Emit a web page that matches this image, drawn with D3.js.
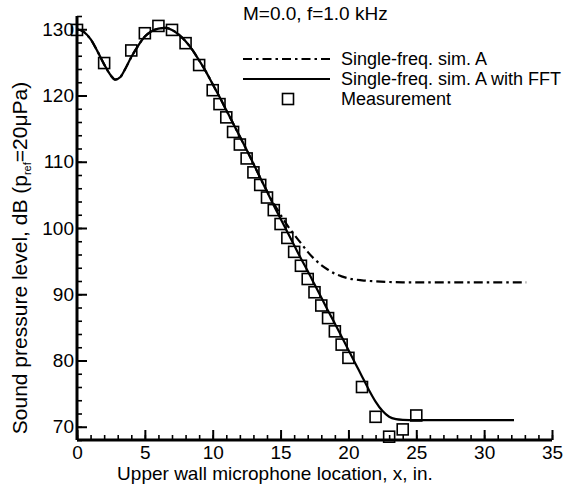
<!DOCTYPE html>
<html><head><meta charset="utf-8">
<script src="https://cdn.jsdelivr.net/npm/d3@7/dist/d3.min.js"></script>
<style>
body{margin:0;background:#fff}
svg{display:block}
text{font-family:"Liberation Sans",Arial,Helvetica,sans-serif;fill:#000}
</style>
</head><body>
<svg id="c" width="566" height="491"></svg>
<script>
// ---- data ----
const measX = [0,2,4,5,6,7,8,9,10,10.5,11,11.5,12,12.5,13,13.5,14,14.5,15,15.5,16,16.5,17,17.5,18,18.5,19,19.5,20,21,22,23,24,25];
const measY = [129.9,124.9,126.8,129.4,130.5,129.9,127.9,124.6,120.8,118.7,116.7,114.5,112.6,110.5,108.4,106.5,104.6,102.7,100.6,98.5,96.4,94.3,92.3,90.3,88.3,86.4,84.4,82.4,80.4,76.0,71.5,68.5,69.6,71.7];

const fftX = [0,0.5,1,1.5,2,2.5,2.8,3.2,3.5,4,4.5,5,5.5,6,6.5,7,7.5,8,8.5,9,9.5,10,10.5,11,11.5,12,12.5,13,13.5,14,14.5,15,15.5,16,16.5,17,17.5,18,18.5,19,19.5,20,20.5,21,21.5,22,22.5,23,23.5,24,25,28,32.2];
const fftY = [130.0,129.6,128.5,126.7,124.7,123.0,122.4,122.8,123.8,125.8,127.5,128.9,129.7,130.1,130.2,129.9,129.2,128.2,126.9,125.3,123.6,121.7,119.8,117.8,115.8,113.8,111.8,109.7,107.6,105.5,103.4,101.4,99.4,97.4,95.4,93.5,91.5,89.5,87.5,85.6,83.6,81.6,79.6,77.6,75.6,73.8,72.4,71.5,71.15,71.05,71.0,71.0,71.0];

const simX = [0,0.5,1,1.5,2,2.5,2.8,3.2,3.5,4,4.5,5,5.5,6,6.5,7,7.5,8,8.5,9,9.5,10,10.5,11,11.5,12,12.5,13,13.5,14,14.5,15,15.5,16,16.5,17,17.5,18,18.5,19,19.5,20,21,22,23,24,28,33.1];
const simY = [130.0,129.6,128.5,126.7,124.7,123.0,122.4,122.8,123.8,125.8,127.5,128.9,129.7,130.1,130.2,129.9,129.2,128.2,126.9,125.3,123.6,121.7,119.8,117.8,115.8,113.8,111.8,109.7,107.6,105.6,103.7,102.0,100.4,99.0,97.7,96.4,95.3,94.4,93.7,93.1,92.7,92.4,92.1,91.95,91.85,91.8,91.8,91.8];

const xTicks = [0,5,10,15,20,25,30,35];
const yTicks = [70,80,90,100,110,120,130];
const xMinor = d3.range(0,36,1);
const yMinor = d3.range(68,133,2);

const titleText = "M=0.0, f=1.0 kHz";
const legendLabels = ["Single-freq. sim. A","Single-freq. sim. A with FFT","Measurement"];

// ---- layout ----
const svg = d3.select("#c");
const x = d3.scaleLinear().domain([0,35]).range([77,552]);
const y = d3.scaleLinear().domain([68,132]).range([440,16]);
const FS = 19;

// minor ticks
svg.append("g").attr("transform","translate(0,440)")
  .call(d3.axisBottom(x).tickValues(xMinor).tickFormat("").tickSizeInner(-5).tickSizeOuter(0))
  .call(g=>g.select(".domain").remove())
  .call(g=>g.selectAll("line").attr("stroke-width",1.6));
svg.append("g").attr("transform","translate(77,0)")
  .call(d3.axisLeft(y).tickValues(yMinor).tickFormat("").tickSizeInner(-5).tickSizeOuter(0))
  .call(g=>g.select(".domain").remove())
  .call(g=>g.selectAll("line").attr("stroke-width",1.6));

// major ticks
const gx = svg.append("g").attr("transform","translate(0,440)")
  .call(d3.axisBottom(x).tickValues(xTicks).tickSizeInner(-10).tickSizeOuter(0).tickPadding(6));
gx.select(".domain").remove();
gx.selectAll("line").attr("stroke-width",2);
gx.selectAll("text").attr("font-size",FS).attr("font-family","Liberation Sans, Arial, sans-serif").attr("fill","#000");

const gy = svg.append("g").attr("transform","translate(77,0)")
  .call(d3.axisLeft(y).tickValues(yTicks).tickSizeInner(-10).tickSizeOuter(0).tickPadding(3));
gy.select(".domain").remove();
gy.selectAll("line").attr("stroke-width",2);
gy.selectAll("text").attr("font-size",FS).attr("font-family","Liberation Sans, Arial, sans-serif").attr("fill","#000");

// axis lines
svg.append("line").attr("x1",x(0)).attr("x2",x(35)).attr("y1",y(68)).attr("y2",y(68)).attr("stroke","#000").attr("stroke-width",3);
svg.append("line").attr("x1",x(0)).attr("x2",x(0)).attr("y1",y(68)).attr("y2",y(132)).attr("stroke","#000").attr("stroke-width",3);

// lines
const line = d3.line().x(d=>x(d[0])).y(d=>y(d[1])).curve(d3.curveMonotoneX);
svg.append("path").datum(simX.map((v,i)=>[v,simY[i]]))
  .attr("d",line).attr("fill","none").attr("stroke","#000").attr("stroke-width",2.2)
  .attr("stroke-dasharray","9,4,2.5,4");
svg.append("path").datum(fftX.map((v,i)=>[v,fftY[i]]))
  .attr("d",line).attr("fill","none").attr("stroke","#000").attr("stroke-width",2.2);

// squares
const S = 11;
svg.append("g").selectAll("rect").data(measX.map((v,i)=>[v,measY[i]])).join("rect")
  .attr("x",d=>x(d[0])-S/2).attr("y",d=>y(d[1])-S/2).attr("width",S).attr("height",S)
  .attr("fill","none").attr("stroke","#000").attr("stroke-width",1.6);

// title
svg.append("text").attr("x",243).attr("y",20).attr("font-size",FS).text(titleText);

// legend
const lg = svg.append("g");
const rows = [59,79,99];
lg.append("line").attr("x1",243).attr("x2",330).attr("y1",rows[0]).attr("y2",rows[0])
  .attr("stroke","#000").attr("stroke-width",2.2).attr("stroke-dasharray","9,4,2.5,4");
lg.append("line").attr("x1",243).attr("x2",330).attr("y1",rows[1]).attr("y2",rows[1])
  .attr("stroke","#000").attr("stroke-width",2.2);
lg.append("rect").attr("x",288-S/2).attr("y",rows[2]-S/2).attr("width",S).attr("height",S)
  .attr("fill","none").attr("stroke","#000").attr("stroke-width",1.6);
legendLabels.forEach((t,i)=>{
  lg.append("text").attr("x",341).attr("y",rows[i]).attr("dy","0.35em").attr("font-size",18).text(t);
});

// axis titles
svg.append("text").attr("x",275).attr("y",480).attr("text-anchor","middle")
  .attr("font-size",FS).text("Upper wall microphone location, x, in.");

const yl = svg.append("text").attr("transform","translate(27,258) rotate(-90)")
  .attr("text-anchor","middle").attr("font-size",21);
yl.append("tspan").text("Sound pressure level, dB (p");
yl.append("tspan").attr("font-size",11).attr("dy",4).text("ref");
yl.append("tspan").attr("dy",-4).text("=20\u03BCPa)");
</script>
</body></html>
